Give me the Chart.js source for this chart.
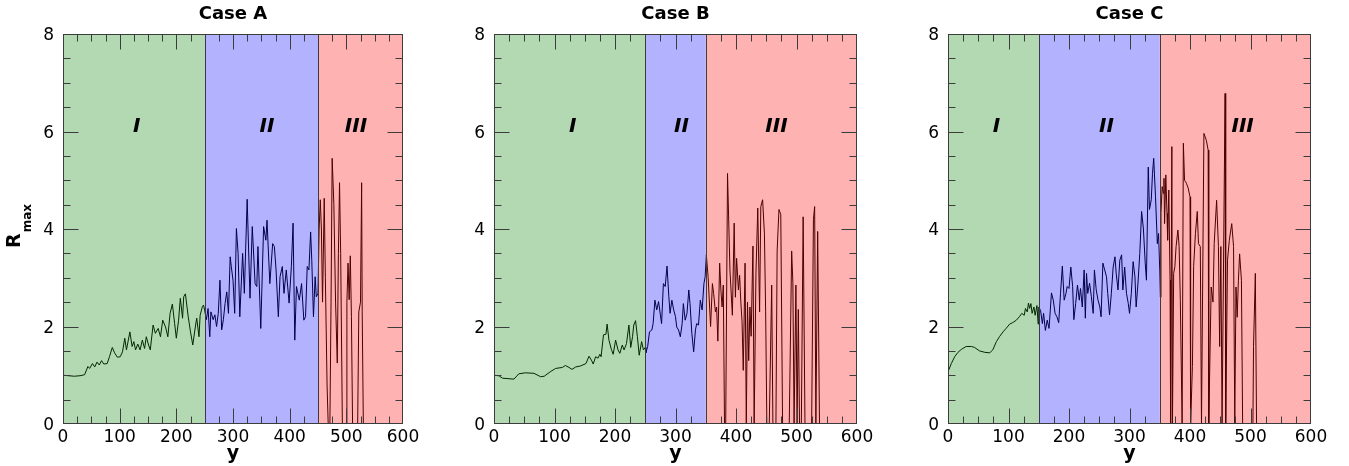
<!DOCTYPE html>
<html>
<head>
<meta charset="utf-8">
<script src="https://cdn.jsdelivr.net/npm/chart.js@4.4.1/dist/chart.umd.min.js"></script>
<style>
  body { margin: 0; background: #fff; width: 1349px; height: 466px; position: relative; overflow: hidden; }
  canvas { position: absolute; top: 0; }
</style>
</head>
<body>
<canvas id="caseA" style="left:0px" width="430" height="466"></canvas>
<canvas id="caseB" style="left:440px" width="440" height="466"></canvas>
<canvas id="caseC" style="left:900px" width="449" height="466"></canvas>
<script>
// Case A
const yA = [0, 10, 20, 30, 38, 44, 47, 52, 56, 60, 64, 68, 72, 78, 82, 87, 91, 96, 101, 105,
  109, 112, 118, 122, 125, 128, 132, 136, 140, 144, 147, 151, 154, 159, 163, 168, 172, 176, 181, 185,
  189, 193, 197, 200, 204, 207, 211, 213, 216, 221, 225, 229, 234, 236, 240, 242, 246, 248, 250,
  253, 256, 259, 261, 265, 268, 271, 274, 277, 280, 283, 286, 289, 292, 295, 297, 300, 303, 306, 309,
  312, 317, 320, 325, 330, 334, 339, 342, 344, 349, 354, 358, 360, 365, 370, 373, 376, 380, 383, 387,
  390, 394, 399, 403, 406, 409, 412, 417, 421, 425, 428, 431, 434, 437, 439, 442, 445, 447, 450,
  452, 454, 456, 458, 461, 463, 466, 468, 471, 473, 475, 478, 481, 484, 486, 488, 490, 493, 500, 501,
  503, 505, 507, 509, 511, 520, 522, 525, 527, 528, 530, 540];
const rA = [1.0, 0.99, 0.98, 0.99, 1.01, 1.18, 1.14, 1.24, 1.17, 1.27, 1.21, 1.30, 1.23, 1.24, 1.38, 1.57, 1.46, 1.37, 1.38, 1.48,
  1.76, 1.52, 1.89, 1.59, 1.69, 1.52, 1.64, 1.52, 1.72, 1.55, 1.79, 1.62, 1.52, 2.03, 1.86, 1.96, 1.79, 2.13, 1.99, 1.79,
  2.27, 2.46, 2.06, 1.76, 2.13, 2.58, 2.17, 2.61, 2.67, 2.20, 1.89, 1.62, 2.03, 2.17, 1.79, 2.23, 2.41, 2.44, 2.33,
  2.14, 2.37, 1.79, 2.30, 2.14, 2.24, 2.00, 2.27, 2.95, 1.93, 2.14, 2.47, 2.71, 2.27, 3.43, 3.23, 2.95, 2.27, 4.01, 3.50,
  2.20, 3.50, 2.68, 4.61, 2.58, 4.05, 2.88, 2.82, 3.64, 1.96, 4.05, 3.77, 4.18, 2.88, 3.70, 3.64, 3.16, 2.20, 3.02, 3.23,
  2.68, 3.16, 2.48, 3.23, 4.12, 1.72, 2.82, 2.54, 2.88, 2.13, 2.20, 3.23, 3.16, 3.94, 3.36, 2.20, 3.02, 2.61, 2.68,
  4.0, 4.6, 4.0, 2.5, 4.63, 3.0, 0.8, 0, 0, 2.5, 5.45, 4.5, 2.5, 1.25, 3.5, 4.95, 3.5, 0, 0, 2.5,
  3.3, 2.55, 3.45, 2.2, 0, 0, 2.3, 2.5, 4.95, 2.3, 0, 0];
const regionsA = [0, 250, 450, 600];

// Case B
const yB = [0, 8, 14, 33, 41, 52, 66, 77, 83, 94, 102, 113, 118, 124, 129, 135, 143, 152, 157, 161,
  164, 168, 172, 175, 177, 181, 185, 187, 190, 194, 197, 201, 205, 208, 212, 215, 219, 223, 226, 229,
  231, 234, 237, 240, 244, 247, 250,
  251, 254, 257, 261, 263, 266, 269, 272, 275, 277, 280, 283, 286, 289, 291, 294, 297, 300, 302, 305,
  308, 311, 313, 316, 319, 322, 324, 327, 330, 333, 335, 338, 341, 344, 347, 349, 351,
  354, 358, 361, 363, 366, 368, 370, 373, 375, 377, 379, 381, 383, 386, 390, 394, 397, 399, 401, 404,
  406, 408, 410, 412, 415, 417, 419, 421, 423, 425, 428, 430, 433, 436, 439, 441, 444, 447, 449, 451,
  455, 459, 461, 466, 468, 471, 474, 477, 488, 492, 494, 496, 499, 501, 503, 505, 508, 511, 514, 525,
  528, 530, 532, 535, 538];
const rB = [1.0, 0.99, 0.94, 0.92, 1.03, 1.05, 1.04, 0.97, 0.98, 1.08, 1.14, 1.16, 1.20, 1.16, 1.12, 1.17, 1.19, 1.24, 1.39, 1.31,
  1.23, 1.38, 1.35, 1.43, 1.38, 1.83, 1.84, 2.05, 1.72, 1.53, 1.43, 1.72, 1.52, 1.45, 1.62, 1.52, 1.65, 2.03, 1.57, 1.79,
  2.03, 2.12, 1.79, 1.41, 1.69, 1.52, 1.57,
  1.46, 1.59, 1.89, 1.93, 2.06, 2.54, 2.34, 2.51, 2.24, 2.06, 2.88, 2.82, 3.24, 2.61, 2.27, 2.54, 2.34, 2.20, 1.99, 1.93,
  1.79, 2.06, 2.47, 2.13, 2.27, 2.75, 2.47, 1.86, 1.48, 1.93, 2.06, 2.03, 2.54, 2.34, 2.88, 3.02, 3.47,
  3.0, 2.0, 2.88, 2.68, 2.3, 2.4, 1.7, 3.3, 2.75, 2.4, 2.85, 0, 0, 5.14, 3.16, 2.23, 4.12, 2.6, 3.4, 2.75,
  3.05, 2.5, 2.1, 1.1, 3.3, 0, 2.5, 1.3, 2.4, 1.8, 3.65, 0, 3.1, 4.43, 2.3, 4.46, 4.6, 3.9, 2.3, 0,
  0, 2.85, 0, 0, 3.55, 4.4, 4.3, 0, 0, 3.55, 2.9, 0, 2.85, 0, 2.35, 0, 0, 4.25, 0, 0,
  4.2, 4.46, 0, 3.95, 0];
const regionsB = [0, 250, 350, 600];

// Case C
const yC = [0, 5.5, 11, 16.5, 22, 30, 39, 44, 52, 61, 69, 74, 80, 85, 91, 96, 102, 107, 113, 118,
  122, 126, 128, 131, 133, 135, 137, 139, 142, 144, 147, 149, 150,
  153, 156, 158, 161, 164, 167, 171, 174, 177, 180, 183, 186, 189, 192, 195, 197, 200, 203, 206, 208,
  211, 214, 217, 219, 222, 225, 227, 229, 231, 234, 237, 240, 242, 245, 248, 251, 253, 256, 259, 262,
  264, 267, 270, 273, 276, 278, 281, 284, 287, 289, 292, 295, 298, 300, 303, 306, 309, 311, 314, 317,
  320, 323, 326, 328, 331, 333, 336, 338, 340, 343, 346, 348, 350,
  351, 352, 354, 356, 357, 358, 360, 362, 363, 365, 367, 368, 370, 371, 373, 375, 377, 380, 382, 384,
  387, 389, 391, 394, 397, 400, 401, 404, 406, 409, 412, 414, 417, 419, 423, 427, 430, 431, 435, 438,
  440, 444, 447, 449, 451, 453, 458, 459, 462, 465, 469, 472, 474, 476, 478, 480, 482, 485, 487, 504,
  505, 508, 510];
const rC = [1.07, 1.24, 1.38, 1.47, 1.53, 1.59, 1.59, 1.57, 1.50, 1.47, 1.46, 1.52, 1.69, 1.79, 1.89, 1.96, 2.05, 2.08, 2.13, 2.20,
  2.27, 2.23, 2.37, 2.30, 2.48, 2.37, 2.47, 2.27, 2.40, 2.23, 2.43, 2.05, 2.40,
  2.33, 2.06, 2.27, 1.92, 2.13, 1.96, 2.69, 2.54, 2.27, 2.20, 2.08, 2.68, 3.24, 2.54, 2.68, 2.82, 2.78, 3.22, 2.82, 2.14,
  2.47, 2.85, 2.54, 2.78, 2.40, 3.16, 2.17, 3.09, 2.68, 2.89, 2.61, 2.27, 3.16, 2.75, 2.54, 2.40, 2.20, 3.30, 3.16, 3.02,
  2.68, 2.24, 2.68, 3.22, 3.43, 3.09, 2.75, 3.36, 3.47, 2.75, 3.22, 2.68, 2.47, 2.27, 2.68, 3.33, 3.02, 2.40, 2.89, 3.50,
  4.36, 4.0, 3.3, 2.95, 5.27, 4.4, 4.6, 5.14, 5.45, 4.66, 3.7, 3.91, 3.16,
  2.6, 4.32, 4.87, 4.73, 5.04, 4.11, 5.11, 4.32, 3.77, 4.80, 2.95, 0, 5.69, 0, 3.09, 3.23, 3.64, 3.98, 3.64, 2.54,
  0, 5.76, 5.0, 4.94, 4.84, 4.66, 0, 1.18, 3.23, 3.91, 4.36, 3.70, 3.64, 0, 5.96, 5.82, 5.62, 0, 2.81, 2.50,
  3.70, 4.59, 3.64, 1.59, 3.64, 0, 6.78, 0, 3.36, 3.77, 4.11, 3.64, 0, 2.81, 2.19, 2.95, 3.49, 2.95, 0, 0,
  1.59, 3.09, 0];
const regionsC = [0, 150, 350, 600];

const regionNames = ['I', 'II', 'III'];
const regionFill = ['rgba(0,128,0,0.3)', 'rgba(0,0,255,0.3)', 'rgba(255,0,0,0.3)'];
const FONT = 'DejaVu Sans';

// shaded regions (drawn over the curve), inner ticks, frame and region labels
const panelDecor = {
  id: 'panelDecor',
  afterDatasetsDraw(chart, args, opts) {
    const { ctx, chartArea: a, scales: { x, y } } = chart;
    const b = opts.bounds;
    ctx.save();
    for (let i = 0; i < 3; i++) {
      const x0 = x.getPixelForValue(b[i]);
      const x1 = x.getPixelForValue(b[i + 1]);
      ctx.fillStyle = regionFill[i];
      ctx.fillRect(x0, a.top, x1 - x0, a.bottom - a.top);
    }
    const L = Math.round(a.left) + 0.5, R = Math.round(a.right) - 0.5;
    const T = Math.round(a.top) + 0.5, B = Math.round(a.bottom) - 0.5;
    ctx.strokeStyle = '#3c3c3c';
    ctx.lineWidth = 1;
    ctx.beginPath();
    for (let i = 1; i < 3; i++) {
      const px = Math.round(x.getPixelForValue(b[i])) + 0.5;
      ctx.moveTo(px, T);
      ctx.lineTo(px, B);
    }
    for (let v = 25; v < 600; v += 25) {
      const px = Math.round(x.getPixelForValue(v)) + 0.5;
      const len = v % 100 === 0 ? 15 : 7;
      ctx.moveTo(px, B); ctx.lineTo(px, B - len);
      ctx.moveTo(px, T); ctx.lineTo(px, T + len);
    }
    for (let v = 0.5; v < 8; v += 0.5) {
      const py = Math.round(y.getPixelForValue(v)) + 0.5;
      const len = v % 2 === 0 ? 15 : 7;
      ctx.moveTo(L, py); ctx.lineTo(L + len, py);
      ctx.moveTo(R, py); ctx.lineTo(R - len, py);
    }
    ctx.stroke();
    ctx.strokeRect(L, T, R - L, B - T);

    ctx.fillStyle = '#000';
    ctx.font = 'italic bold 20px "' + FONT + '"';
    ctx.textAlign = 'center';
    ctx.textBaseline = 'middle';
    for (let i = 0; i < 3; i++) {
      ctx.fillText(regionNames[i], x.getPixelForValue(opts.labelX[i]), y.getPixelForValue(6.1));
    }

    if (opts.yTitle) {
      ctx.translate(15, 248);
      ctx.rotate(-Math.PI / 2);
      ctx.font = 'bold 19px "' + FONT + '"';
      ctx.textAlign = 'left';
      ctx.fillText('R', 0, 0);
      const w = ctx.measureText('R').width;
      ctx.font = 'bold 12px "' + FONT + '"';
      ctx.fillText('max', w + 1, 13);
    }
    ctx.restore();
  }
};

function makePanel(id, title, xs, rs, bounds, labelX, yWidth, padRight, yTitle) {
  const ctx = document.getElementById(id).getContext('2d');
  new Chart(ctx, {
    type: 'line',
    data: {
      datasets: [{
        data: xs.map((v, i) => ({ x: v, y: rs[i] })),
        borderColor: '#000',
        borderWidth: 1,
        pointRadius: 0,
        tension: 0,
        fill: false
      }]
    },
    options: {
      responsive: false,
      animation: false,
      layout: { padding: { left: 0, right: padRight, top: 0, bottom: 0 } },
      plugins: {
        legend: { display: false },
        tooltip: { enabled: false },
        title: {
          display: true,
          text: title,
          fullSize: false,
          color: '#000',
          font: { family: FONT, size: 18, weight: 'bold' },
          padding: { top: 4, bottom: 8.4 }
        },
        panelDecor: { bounds: bounds, labelX: labelX, yTitle: yTitle }
      },
      scales: {
        x: {
          type: 'linear',
          min: 0,
          max: 600,
          grid: { display: false, drawTicks: false },
          border: { display: false },
          ticks: {
            stepSize: 100, autoSkip: false, maxRotation: 0, padding: 3,
            color: '#000', font: { family: FONT, size: 17 }
          },
          title: {
            display: true, text: 'y', color: '#000',
            font: { family: FONT, size: 19, weight: 'bold' },
            padding: { top: 0, bottom: 1 }
          },
          afterFit: (s) => { s.height = 42; }
        },
        y: {
          min: 0,
          max: 8,
          grid: { display: false, drawTicks: false },
          border: { display: false },
          ticks: {
            stepSize: 2, padding: 9, labelOffset: 2,
            color: '#000', font: { family: FONT, size: 17 }
          },
          afterFit: (s) => { s.width = yWidth; }
        }
      }
    },
    plugins: [panelDecor]
  });
}

makePanel('caseA', 'Case A', yA, rA, regionsA, [130, 360, 517], 63, 27, true);
makePanel('caseB', 'Case B', yB, rB, regionsB, [130, 310, 467], 54, 23, false);
makePanel('caseC', 'Case C', yC, rC, regionsC, [80, 262, 487], 48, 38, false);
</script>
</body>
</html>
